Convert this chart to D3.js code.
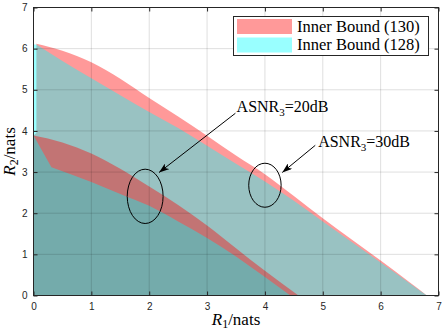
<!DOCTYPE html>
<html>
<head>
<meta charset="utf-8">
<style>
  body { margin: 0; background: #fff; }
  .tick text { font-family: "Liberation Sans", Arial, sans-serif; font-size: 10px; fill: #262626; }
  .serif { font-family: "Liberation Serif", "Times New Roman", serif; fill: #000; }
</style>
</head>
<body>
<svg id="chart" width="443" height="333"></svg>
<script src="https://cdn.jsdelivr.net/npm/d3@7/dist/d3.min.js"></script>
<script>
  // outer regions, ASNR3 = 30dB
  const outerR1 = [0.05, 0.5, 1, 1.5, 2, 2.5, 3, 3.5, 4, 4.5, 5, 5.5, 6, 6.5, 6.8]
  const outerRed = [6.12, 5.95, 5.67, 5.27, 4.8, 4.35, 3.88, 3.4, 2.95, 2.42, 1.88, 1.36, 0.85, 0.32, 0]
  const outerCyan = [6.1, 5.7, 5.28, 4.87, 4.46, 4.07, 3.64, 3.2, 2.77, 2.3, 1.8, 1.3, 0.8, 0.3, 0]

  // inner regions, ASNR3 = 20dB
  const innerRedR1 = [0, 0.5, 1, 1.5, 2, 2.5, 3, 3.5, 4, 4.58]
  const innerRed = [3.89, 3.72, 3.45, 3.08, 2.65, 2.2, 1.7, 1.15, 0.6, 0]
  const innerCyanR1 = [0.31, 1, 1.5, 2, 2.5, 3, 3.5, 4, 4.44]
  const innerCyan = [3.12, 2.76, 2.47, 2.18, 1.8, 1.4, 0.95, 0.45, 0]

  const ticks = [0, 1, 2, 3, 4, 5, 6, 7]
  const legendLabels = ['Inner Bound (130)', 'Inner Bound (128)']
  const colors = ['#ff0000', '#00ffff']

  // annotations: [text R1, text R2], arrow from/to, ellipse centre and radii
  const noteLabels = ['20dB', '30dB']
  const notePos = [[3.51, 4.45], [4.92, 3.62]]
  const arrowFrom = [[3.49, 4.43], [4.87, 3.65]]
  const arrowTo = [[2.17, 2.99], [4.3, 2.99]]
  const ellipseCenter = [[1.93, 2.41], [4.0, 2.68]]
  const ellipseRadius = [[0.31, 0.66], [0.28, 0.535]]

  const svg = d3.select('#chart')
  const pLeft = 33.5, pRight = 438.5, pTop = 7.5, pBottom = 295.5

  const x = d3.scaleLinear().domain([0, 7]).range([pLeft, pRight])
  const y = d3.scaleLinear().domain([0, 7]).range([pBottom, pTop])

  const curve = d3.line().x(d => x(d[0])).y(d => y(d[1])).curve(d3.curveMonotoneX)
  const zip = (xs, ys) => xs.map((v, i) => [v, ys[i]])

  // straight corner points, then the smooth boundary, then back to the start
  function regionPath (corners, boundary) {
    const head = 'M' + corners.map(p => x(p[0]) + ',' + y(p[1])).join('L')
    return head + 'L' + curve(boundary).slice(1) + 'Z'
  }

  const regions = [
    { color: colors[0], d: regionPath([[0, 0], [0, 3.89], [0.05, 3.95]], zip(outerR1, outerRed)) },
    { color: colors[1], d: regionPath([[0, 0], [0, 6.1]], zip(outerR1, outerCyan)) },
    { color: colors[0], d: regionPath([[0, 0]], zip(innerRedR1, innerRed)) },
    { color: colors[1], d: regionPath([[0, 0], [0, 3.89]], zip(innerCyanR1, innerCyan)) }
  ]

  svg.append('g').selectAll('path').data(regions).enter()
    .append('path')
      .attr('d', d => d.d)
      .attr('fill', d => d.color)
      .attr('fill-opacity', 0.4)

  // grid on top of the fills
  const grid = svg.append('g').attr('stroke', '#000').attr('stroke-opacity', 0.13)
  grid.selectAll('.gx').data(ticks.slice(1, -1)).enter().append('line')
    .attr('x1', d => x(d)).attr('x2', d => x(d)).attr('y1', pTop).attr('y2', pBottom)
  grid.selectAll('.gy').data(ticks.slice(1, -1)).enter().append('line')
    .attr('y1', d => y(d)).attr('y2', d => y(d)).attr('x1', pLeft).attr('x2', pRight)

  // axes, ticks pointing inward
  const fmt = d3.format('d')
  svg.append('g').attr('transform', `translate(0,${pBottom})`)
    .call(d3.axisBottom(x).tickValues(ticks).tickFormat(fmt).tickSize(-4).tickPadding(7))
  svg.append('g').attr('transform', `translate(0,${pTop})`)
    .call(d3.axisTop(x).tickValues(ticks).tickFormat('').tickSize(-4))
  svg.append('g').attr('transform', `translate(${pLeft},0)`)
    .call(d3.axisLeft(y).tickValues(ticks).tickFormat(fmt).tickSize(-4).tickPadding(6))
  svg.append('g').attr('transform', `translate(${pRight},0)`)
    .call(d3.axisRight(y).tickValues(ticks).tickFormat('').tickSize(-4))
  svg.selectAll('.domain').remove()
  svg.selectAll('.tick line').attr('stroke', '#262626')

  svg.append('rect')
    .attr('x', pLeft).attr('y', pTop).attr('width', pRight - pLeft).attr('height', pBottom - pTop)
    .attr('fill', 'none').attr('stroke', '#262626')

  // axis labels
  const xl = svg.append('text').attr('class', 'serif').attr('font-size', 17)
    .attr('x', (pLeft + pRight) / 2).attr('y', 325).attr('text-anchor', 'middle')
  xl.append('tspan').attr('font-style', 'italic').text('R')
  xl.append('tspan').attr('font-size', 12).attr('dy', 3).text('1')
  xl.append('tspan').attr('dy', -3).text('/nats')

  const yl = svg.append('text').attr('class', 'serif').attr('font-size', 17)
    .attr('transform', `translate(15,${(pTop + pBottom) / 2}) rotate(-90)`).attr('text-anchor', 'middle')
  yl.append('tspan').attr('font-style', 'italic').text('R')
  yl.append('tspan').attr('font-size', 12).attr('dy', 3).text('2')
  yl.append('tspan').attr('dy', -3).text('/nats')

  // ellipses and arrows
  svg.append('defs').append('marker')
    .attr('id', 'head').attr('viewBox', '0 0 10 7').attr('refX', 10).attr('refY', 3.5)
    .attr('markerWidth', 10).attr('markerHeight', 7).attr('markerUnits', 'userSpaceOnUse')
    .attr('orient', 'auto')
    .append('path').attr('d', 'M0,0L10,3.5L0,7L2.5,3.5Z').attr('fill', '#000')

  svg.append('g').selectAll('ellipse').data(ellipseCenter).enter()
    .append('ellipse')
      .attr('cx', d => x(d[0])).attr('cy', d => y(d[1]))
      .attr('rx', (d, i) => x(ellipseRadius[i][0]) - x(0))
      .attr('ry', (d, i) => y(0) - y(ellipseRadius[i][1]))
      .attr('fill', 'none').attr('stroke', '#000')

  svg.append('g').selectAll('line').data(arrowFrom).enter()
    .append('line')
      .attr('x1', d => x(d[0])).attr('y1', d => y(d[1]))
      .attr('x2', (d, i) => x(arrowTo[i][0])).attr('y2', (d, i) => y(arrowTo[i][1]))
      .attr('stroke', '#000').attr('marker-end', 'url(#head)')

  const notes = svg.append('g').selectAll('text').data(noteLabels).enter()
    .append('text').attr('class', 'serif').attr('font-size', 16)
      .attr('x', (d, i) => x(notePos[i][0])).attr('y', (d, i) => y(notePos[i][1]))
  notes.append('tspan').text('ASNR')
  notes.append('tspan').attr('font-size', 11).attr('dy', 4).text('3')
  notes.append('tspan').attr('dy', -4).text(d => '=' + d)

  // legend
  const lg = svg.append('g')
  lg.append('rect').attr('x', 233.5).attr('y', 16.5).attr('width', 195).attr('height', 39)
    .attr('fill', '#fff').attr('stroke', '#262626')
  const rows = lg.selectAll('.row').data(legendLabels).enter()
    .append('g').attr('transform', (d, i) => `translate(0,${18 + i * 18.5})`)
  rows.append('rect').attr('x', 237).attr('y', 1).attr('width', 55).attr('height', 15)
    .attr('fill', (d, i) => colors[i]).attr('fill-opacity', 0.4)
  rows.append('text').attr('class', 'serif').attr('font-size', 16.5)
    .attr('x', 297).attr('y', 13.5).text(d => d)
</script>
</body>
</html>
